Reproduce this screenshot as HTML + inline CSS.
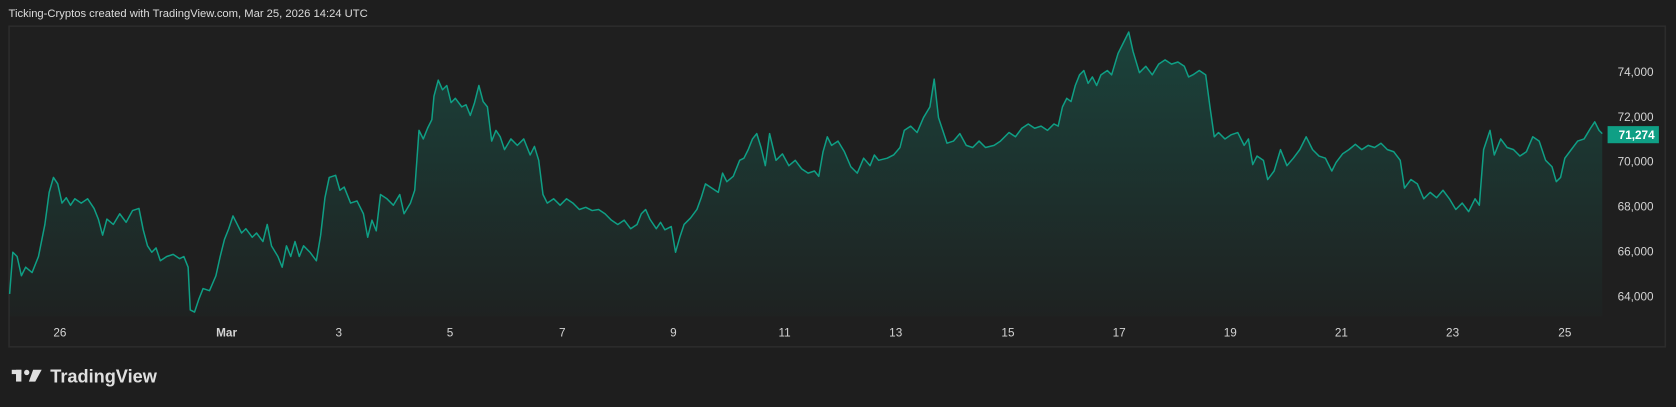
<!DOCTYPE html>
<html><head><meta charset="utf-8"><style>
html,body{margin:0;padding:0;background:#1e1e1e;overflow:hidden}
svg{display:block}
text{font-family:"Liberation Sans",sans-serif}
</style></head><body>
<svg width="1676" height="407" viewBox="0 0 1568 380.8" preserveAspectRatio="none" xmlns="http://www.w3.org/2000/svg">
<defs>
<linearGradient id="f" x1="0" y1="30" x2="0" y2="296" gradientUnits="userSpaceOnUse">
<stop offset="0" stop-color="#0f9f85" stop-opacity="0.28"/>
<stop offset="1" stop-color="#0f9f85" stop-opacity="0.02"/>
</linearGradient>
</defs>
<rect width="1568" height="381" fill="#1e1e1e"/>
<text x="8" y="16" font-size="10.5" fill="#dcdcdc">Ticking-Cryptos created with TradingView.com, Mar 25, 2026 14:24 UTC</text>
<rect x="8.5" y="24.5" width="1549.5" height="300" fill="#1f1f1f" stroke="#2c2c2c" stroke-width="1.5"/>
<path fill="url(#f)" stroke="none" d="M9,296 L9,275 12,236 16,240 20,258 24,250 30,255 36,240 42,210 46,180 50,166 54,172 58,190 62,185 66,192 70,186 76,190 82,186 88,195 92,205 96,220 100,205 106,210 112,200 118,208 124,197 130,195 134,215 138,230 142,236 146,232 150,244 156,240 162,238 168,242 172,240 176,250 178,290 182,292 186,280 190,270 196,272 202,258 206,240 210,224 214,214 218,202 222,210 226,218 230,214 236,222 240,218 246,226 250,210 254,230 260,240 264,250 268,230 272,240 276,226 280,240 284,230 290,236 296,244 300,220 304,185 308,166 314,164 318,178 322,175 328,190 334,188 340,200 344,222 348,206 352,216 356,182 362,186 368,192 374,182 378,200 384,190 388,178 392,122 396,130 400,120 404,112 406,90 410,75 414,84 418,80 422,96 426,92 432,100 436,98 440,108 444,96 448,80 452,95 456,100 460,132 464,122 468,128 472,140 478,130 484,136 490,130 496,145 500,137 504,150 508,182 512,190 518,186 524,192 530,186 536,190 542,196 548,194 554,197 560,196 566,200 572,206 578,210 584,206 590,214 596,210 600,200 604,196 608,205 614,214 618,208 622,215 628,212 632,236 636,222 640,210 646,204 652,196 656,185 660,172 666,176 672,180 676,162 680,170 686,165 692,150 696,148 700,140 704,130 708,125 712,138 716,155 720,125 726,150 732,144 738,155 744,150 750,158 756,162 762,160 766,165 770,142 774,128 778,136 784,132 790,142 796,156 802,162 808,148 814,155 818,145 822,150 830,148 836,145 842,138 846,122 852,118 858,124 864,110 870,100 874,74 878,110 882,122 886,134 892,132 898,125 904,136 910,138 916,132 922,138 930,136 936,132 944,124 950,128 956,120 962,116 968,120 974,118 980,122 986,116 990,118 994,100 998,92 1002,95 1006,80 1010,70 1014,66 1018,78 1022,72 1026,80 1030,70 1036,66 1040,70 1046,50 1052,38 1056,30 1060,48 1066,68 1072,62 1078,70 1084,60 1090,56 1096,60 1102,58 1108,62 1112,72 1116,70 1122,66 1128,70 1132,100 1136,128 1140,124 1146,130 1152,126 1158,124 1164,136 1168,130 1172,154 1176,146 1182,150 1186,168 1192,160 1198,140 1204,155 1210,148 1216,140 1222,128 1228,140 1234,146 1240,148 1246,160 1250,152 1256,144 1262,140 1268,135 1274,140 1280,136 1286,138 1292,134 1298,140 1304,142 1310,150 1314,176 1320,168 1326,172 1332,186 1338,180 1344,185 1350,178 1356,186 1362,196 1368,190 1374,198 1380,186 1384,192 1388,140 1394,122 1398,145 1404,130 1410,138 1416,140 1422,146 1428,142 1434,128 1440,132 1446,150 1452,156 1456,170 1460,166 1464,148 1470,140 1476,132 1482,130 1488,120 1492,114 1496,122 1499,125 L1499,296 Z"/>
<polyline fill="none" stroke="#0f9f85" stroke-width="1.4" stroke-linejoin="round" points="9,275 12,236 16,240 20,258 24,250 30,255 36,240 42,210 46,180 50,166 54,172 58,190 62,185 66,192 70,186 76,190 82,186 88,195 92,205 96,220 100,205 106,210 112,200 118,208 124,197 130,195 134,215 138,230 142,236 146,232 150,244 156,240 162,238 168,242 172,240 176,250 178,290 182,292 186,280 190,270 196,272 202,258 206,240 210,224 214,214 218,202 222,210 226,218 230,214 236,222 240,218 246,226 250,210 254,230 260,240 264,250 268,230 272,240 276,226 280,240 284,230 290,236 296,244 300,220 304,185 308,166 314,164 318,178 322,175 328,190 334,188 340,200 344,222 348,206 352,216 356,182 362,186 368,192 374,182 378,200 384,190 388,178 392,122 396,130 400,120 404,112 406,90 410,75 414,84 418,80 422,96 426,92 432,100 436,98 440,108 444,96 448,80 452,95 456,100 460,132 464,122 468,128 472,140 478,130 484,136 490,130 496,145 500,137 504,150 508,182 512,190 518,186 524,192 530,186 536,190 542,196 548,194 554,197 560,196 566,200 572,206 578,210 584,206 590,214 596,210 600,200 604,196 608,205 614,214 618,208 622,215 628,212 632,236 636,222 640,210 646,204 652,196 656,185 660,172 666,176 672,180 676,162 680,170 686,165 692,150 696,148 700,140 704,130 708,125 712,138 716,155 720,125 726,150 732,144 738,155 744,150 750,158 756,162 762,160 766,165 770,142 774,128 778,136 784,132 790,142 796,156 802,162 808,148 814,155 818,145 822,150 830,148 836,145 842,138 846,122 852,118 858,124 864,110 870,100 874,74 878,110 882,122 886,134 892,132 898,125 904,136 910,138 916,132 922,138 930,136 936,132 944,124 950,128 956,120 962,116 968,120 974,118 980,122 986,116 990,118 994,100 998,92 1002,95 1006,80 1010,70 1014,66 1018,78 1022,72 1026,80 1030,70 1036,66 1040,70 1046,50 1052,38 1056,30 1060,48 1066,68 1072,62 1078,70 1084,60 1090,56 1096,60 1102,58 1108,62 1112,72 1116,70 1122,66 1128,70 1132,100 1136,128 1140,124 1146,130 1152,126 1158,124 1164,136 1168,130 1172,154 1176,146 1182,150 1186,168 1192,160 1198,140 1204,155 1210,148 1216,140 1222,128 1228,140 1234,146 1240,148 1246,160 1250,152 1256,144 1262,140 1268,135 1274,140 1280,136 1286,138 1292,134 1298,140 1304,142 1310,150 1314,176 1320,168 1326,172 1332,186 1338,180 1344,185 1350,178 1356,186 1362,196 1368,190 1374,198 1380,186 1384,192 1388,140 1394,122 1398,145 1404,130 1410,138 1416,140 1422,146 1428,142 1434,128 1440,132 1446,150 1452,156 1456,170 1460,166 1464,148 1470,140 1476,132 1482,130 1488,120 1492,114 1496,122 1499,125"/>
<g font-size="11" fill="#d4d4d4" text-anchor="end">
<text x="1547" y="71">74,000</text>
<text x="1547" y="113">72,000</text>
<text x="1547" y="155">70,000</text>
<text x="1547" y="197">68,000</text>
<text x="1547" y="239">66,000</text>
<text x="1547" y="281">64,000</text>
</g>
<rect x="1504" y="118" width="48" height="16" fill="#0f9f85"/>
<text x="1548" y="130" font-size="11" font-weight="bold" fill="#ffffff" text-anchor="end">71,274</text>
<g font-size="11" fill="#d4d4d4" text-anchor="middle">
<text x="56" y="315">26</text>
<text x="212" y="315" font-weight="bold">Mar</text>
<text x="317" y="315">3</text>
<text x="421" y="315">5</text>
<text x="526" y="315">7</text>
<text x="630" y="315">9</text>
<text x="734" y="315">11</text>
<text x="838" y="315">13</text>
<text x="943" y="315">15</text>
<text x="1047" y="315">17</text>
<text x="1151" y="315">19</text>
<text x="1255" y="315">21</text>
<text x="1359" y="315">23</text>
<text x="1464" y="315">25</text>
</g>
<g fill="#e0e0e0">
<rect x="11" y="346" width="9" height="4"/>
<rect x="15" y="346" width="5" height="11"/>
<circle cx="25" cy="348.5" r="2.5"/>
<polygon points="31,346 39,346 33,357 27,357"/>
</g>
<text x="47" y="358" font-size="17" font-weight="bold" fill="#e0e0e0">TradingView</text>
</svg>
</body></html>
